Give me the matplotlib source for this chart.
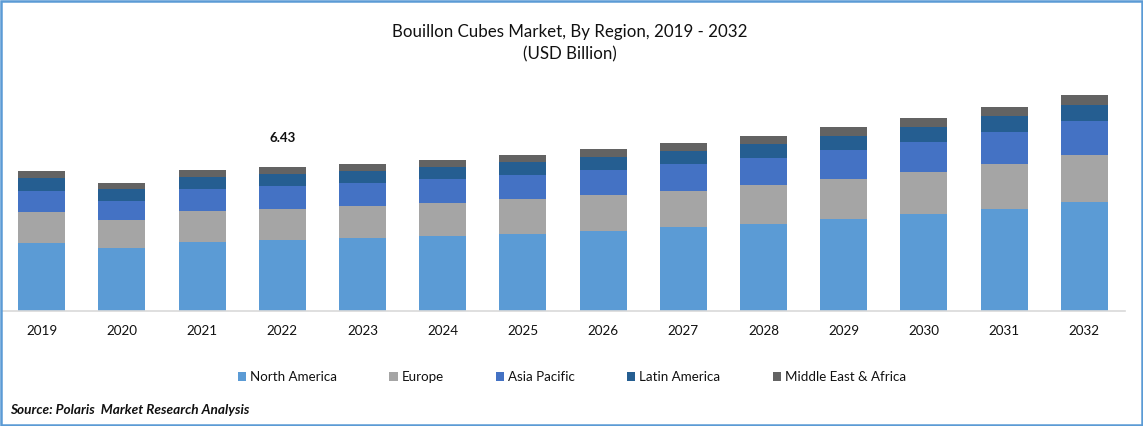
import matplotlib
matplotlib.use("Agg")
import matplotlib.pyplot as plt
from matplotlib.patches import Patch, Rectangle
import numpy as np

plt.rcParams['font.family'] = ['Lato', 'DejaVu Sans']

years = ['2019', '2020', '2021', '2022', '2023', '2024', '2025', '2026', '2027', '2028', '2029', '2030', '2031', '2032']
north_america = [3.04, 2.81, 3.08, 3.17, 3.26, 3.35, 3.44, 3.57, 3.75, 3.88, 4.11, 4.33, 4.55, 4.87]
europe = [1.38, 1.25, 1.38, 1.38, 1.43, 1.47, 1.56, 1.61, 1.61, 1.74, 1.79, 1.88, 2.01, 2.10]
asia_pacific = [0.94, 0.85, 0.98, 1.03, 1.03, 1.07, 1.07, 1.12, 1.21, 1.21, 1.29, 1.34, 1.43, 1.52]
latin_america = [0.58, 0.54, 0.54, 0.54, 0.54, 0.54, 0.58, 0.58, 0.58, 0.62, 0.62, 0.67, 0.71, 0.71]
middle_east_africa = [0.31, 0.27, 0.31, 0.31, 0.31, 0.31, 0.31, 0.36, 0.36, 0.36, 0.40, 0.40, 0.40, 0.45]
labels = ['North America', 'Europe', 'Asia Pacific', 'Latin America', 'Middle East & Africa']
colors = ['#5B9BD5', '#A5A5A5', '#4472C4', '#255E91', '#636363']
series = [north_america, europe, asia_pacific, latin_america, middle_east_africa]
callout_index = 3
callout_text = '6.43'

W, H = 1143, 426
fig = plt.figure(figsize=(W / 100, H / 100), dpi=100)
ax = fig.add_axes([1.5 / W, (H - 311) / H, (1124.5 - 1.5) / W, 231 / H])

x = np.arange(len(years))
bottom = np.zeros(len(years))
for vals, lab, col in zip(series, labels, colors):
    ax.bar(x, vals, bottom=bottom, width=0.586, color=col, label=lab, linewidth=0)
    bottom += np.array(vals)

ax.set_xlim(-0.5, 13.5)
ax.set_ylim(0, 231 / 22.4)
ax.set_xticks(x, years, fontsize=9.7, color='#111111')
ax.tick_params(axis='x', length=0, pad=10)
ax.set_yticks([])
for s in ['top', 'left', 'right']:
    ax.spines[s].set_visible(False)
ax.spines['bottom'].set_color('#D9D9D9')
ax.spines['bottom'].set_linewidth(1.2)

ax.annotate(callout_text, (x[callout_index], bottom[callout_index]), xytext=(0, 20.5),
            textcoords='offset points', ha='center', va='center',
            fontsize=9.6, fontweight='bold', color='#111111')

fig.text(570 / W, 1 - 31.5 / H, 'Bouillon Cubes Market, By Region, 2019 - 2032',
         ha='center', va='center', fontsize=12.2, color='#111111')
fig.text(570 / W, 1 - 54.5 / H, '(USD Billion)', ha='center', va='center', fontsize=12.2, color='#111111')

handles = [Patch(facecolor=c, label=l) for c, l in zip(colors, labels)]
fig.legend(handles=handles, ncol=5, loc='center left', bbox_to_anchor=(238 / W, 1 - 377 / H),
           frameon=False, fontsize=9.6, handlelength=0.62, handleheight=0.62, handletextpad=0.3,
           columnspacing=3.91, borderpad=0, borderaxespad=0, labelcolor='#111111')

fig.text(10 / W, 1 - 410.5 / H, 'Source: Polaris  Market Research Analysis', ha='left', va='center',
         fontsize=9.85, fontweight='bold', fontstyle='italic', color='#111111')

fig.add_artist(Rectangle((1 / W, 1 / H), (W - 2) / W, (H - 2) / H, transform=fig.transFigure,
                         facecolor='none', edgecolor='#5B9BD5', linewidth=1.8))

fig.savefig('out.png', dpi=100)
